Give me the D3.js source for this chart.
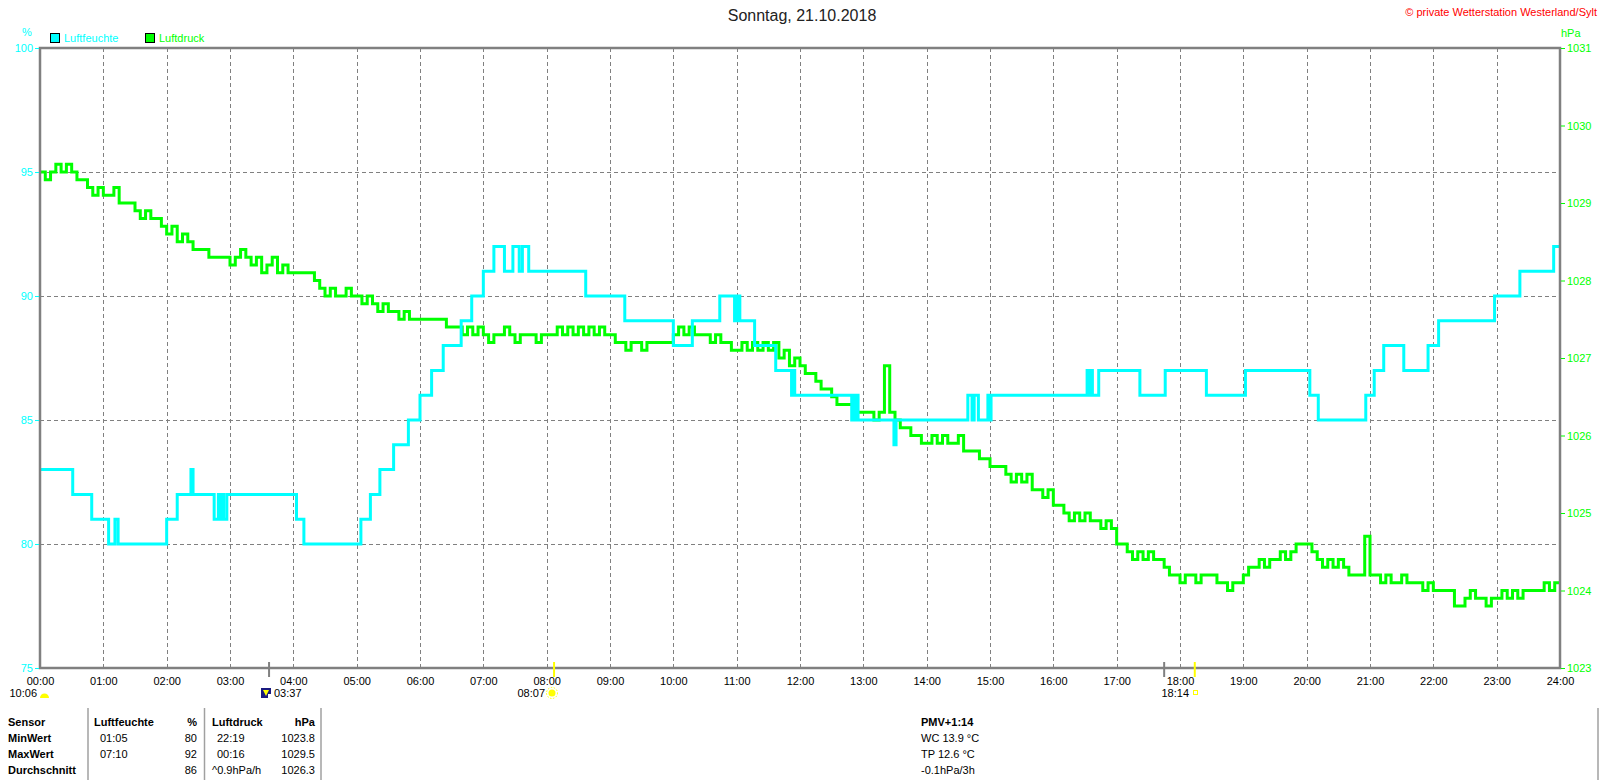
<!DOCTYPE html>
<html>
<head>
<meta charset="utf-8">
<script src="https://cdn.jsdelivr.net/npm/d3@7"></script>
<style>
  body { margin: 0; background: #fff; }
  svg { display: block; font-family: "Liberation Sans", Arial, sans-serif; }
</style>
</head>
<body>
<svg width="1600" height="780"></svg>
<script>
// Luftfeuchte: step changes (time -> %)
var humTimes = ["00:00","00:31","00:49","01:05","01:11","01:14","02:00","02:10","02:23","02:25","02:45","02:49","02:51","02:53","02:54","02:57",
  "04:03","04:10","05:04","05:13","05:22","05:35","05:49","06:00","06:11","06:22","06:39","06:49","07:00","07:10","07:20","07:28","07:34","07:37","07:43",
  "08:37","09:14","10:00","10:18","10:44","10:58","10:59","11:01","11:02","11:03","11:17","11:37","11:52","11:53","11:55",
  "12:49","12:50","12:52","12:54","12:55","13:29","13:31","14:39","14:43","14:45","14:49","14:58","14:59","15:01",
  "16:32","16:34","16:36","16:37","16:43","17:22","17:46","18:25","19:02","20:03","20:11","20:56","21:04","21:13","21:32","21:55","22:05","22:58","23:22","23:54"];
var humValues = [83,82,81,80,81,80,81,82,83,82,81,82,81,82,81,82,
  81,80,81,82,83,84,85,86,87,88,89,90,91,92,91,92,91,92,91,
  90,89,88,89,90,89,90,89,90,89,88,87,86,87,86,
  85,86,85,86,85,84,85,86,85,86,85,86,85,86,
  87,86,87,86,87,86,87,86,87,86,85,86,87,88,87,88,89,90,91,92];

// Luftdruck: every 5 minutes from 00:00 to 24:00 (hPa)
var pressureStepMin = 5;
var pressureValues = [
  1029.4,1029.3,1029.4,1029.5,1029.4,1029.5,1029.4,1029.3,1029.3,1029.2,1029.1,1029.2,
  1029.1,1029.1,1029.2,1029.0,1029.0,1029.0,1028.9,1028.8,1028.9,1028.8,1028.8,1028.7,
  1028.6,1028.7,1028.5,1028.6,1028.5,1028.4,1028.4,1028.4,1028.3,1028.3,1028.3,1028.3,
  1028.2,1028.3,1028.4,1028.3,1028.2,1028.3,1028.1,1028.2,1028.3,1028.1,1028.2,1028.1,
  1028.1,1028.1,1028.1,1028.1,1028.0,1027.9,1027.8,1027.9,1027.8,1027.8,1027.9,1027.8,
  1027.8,1027.7,1027.8,1027.7,1027.6,1027.7,1027.6,1027.6,1027.5,1027.6,1027.5,1027.5,
  1027.5,1027.5,1027.5,1027.5,1027.5,1027.4,1027.4,1027.4,1027.3,1027.4,1027.3,1027.4,
  1027.3,1027.2,1027.3,1027.3,1027.4,1027.3,1027.2,1027.3,1027.3,1027.3,1027.2,1027.3,
  1027.3,1027.3,1027.4,1027.3,1027.4,1027.3,1027.4,1027.3,1027.4,1027.3,1027.4,1027.3,
  1027.3,1027.2,1027.2,1027.1,1027.2,1027.2,1027.1,1027.2,1027.2,1027.2,1027.2,1027.2,
  1027.3,1027.4,1027.3,1027.4,1027.3,1027.3,1027.3,1027.2,1027.3,1027.2,1027.2,1027.1,
  1027.1,1027.2,1027.1,1027.2,1027.1,1027.2,1027.1,1027.2,1027.0,1027.1,1026.9,1027.0,
  1026.9,1026.8,1026.8,1026.7,1026.6,1026.6,1026.5,1026.4,1026.4,1026.4,1026.3,1026.3,
  1026.3,1026.3,1026.2,1026.3,1026.9,1026.3,1026.2,1026.1,1026.1,1026.0,1026.0,1025.9,
  1025.9,1026.0,1025.9,1026.0,1025.9,1025.9,1026.0,1025.8,1025.8,1025.8,1025.7,1025.7,
  1025.6,1025.6,1025.6,1025.5,1025.4,1025.5,1025.4,1025.5,1025.3,1025.3,1025.2,1025.3,
  1025.1,1025.1,1025.0,1024.9,1025.0,1024.9,1025.0,1024.9,1024.9,1024.8,1024.9,1024.8,
  1024.6,1024.6,1024.5,1024.4,1024.5,1024.4,1024.5,1024.4,1024.4,1024.3,1024.2,1024.2,
  1024.1,1024.2,1024.2,1024.1,1024.2,1024.2,1024.2,1024.1,1024.1,1024.0,1024.1,1024.1,
  1024.2,1024.3,1024.3,1024.4,1024.3,1024.4,1024.4,1024.5,1024.4,1024.5,1024.6,1024.6,
  1024.6,1024.5,1024.4,1024.3,1024.4,1024.3,1024.4,1024.3,1024.2,1024.2,1024.2,1024.7,
  1024.2,1024.2,1024.1,1024.2,1024.1,1024.1,1024.2,1024.1,1024.1,1024.1,1024.0,1024.1,
  1024.0,1024.0,1024.0,1024.0,1023.8,1023.8,1023.9,1024.0,1023.9,1023.9,1023.8,1023.9,
  1023.9,1024.0,1023.9,1024.0,1023.9,1024.0,1024.0,1024.0,1024.0,1024.1,1024.0,1024.1,
  1024.1];

var humTicks = [75, 80, 85, 90, 95, 100];
var pressureTicks = [1023, 1024, 1025, 1026, 1027, 1028, 1029, 1030, 1031];

// sun / moon times under the axis
var markerTimes = ["03:37", "08:07", "17:45", "18:14"];
var markerColors = ["#808080", "#ffff00", "#808080", "#ffff00"];

// statistics table
var tableHeader = ["Sensor", "Luftfeuchte", "%", "Luftdruck", "hPa"];
var tableLabels = ["MinWert", "MaxWert", "Durchschnitt"];
var humTimesStat = ["01:05", "07:10", ""];
var humStat = ["80", "92", "86"];
var presTimesStat = ["22:19", "00:16", "^0.9hPa/h"];
var presStat = ["1023.8", "1029.5", "1026.3"];
var pmvLines = ["PMV+1:14", "WC 13.9 °C", "TP 12.6 °C", "-0.1hPa/3h"];

var toMin = function (s) { var p = s.split(":"); return +p[0] * 60 + +p[1]; };

var plotL = 40, plotR = 1560, plotT = 48, plotB = 668;
var cyan = "#00ffff", green = "#00ff00", gridGray = "#808080";
var fontStack = "Liberation Sans, Arial, sans-serif";

var svg = d3.select("svg");

var x = d3.scaleLinear().domain([0, 1440]).range([plotL, plotR]);
var yHum = d3.scaleLinear().domain([75, 100]).range([plotB, plotT]);
var yPres = d3.scaleLinear().domain([1023, 1031]).range([plotB, plotT]);

//grid
var grid = svg.append("g").attr("stroke", gridGray).attr("stroke-width", 1).attr("stroke-dasharray", "4,3");
grid.selectAll(".vg").data(d3.range(60, 1440, 60)).enter().append("line")
    .attr("x1", function (d) { return Math.round(x(d)) + 0.5; })
    .attr("x2", function (d) { return Math.round(x(d)) + 0.5; })
    .attr("y1", plotT).attr("y2", plotB);
grid.selectAll(".hg").data([80, 85, 90, 95]).enter().append("line")
    .attr("x1", plotL).attr("x2", plotR)
    .attr("y1", function (d) { return Math.round(yHum(d)) + 0.5; })
    .attr("y2", function (d) { return Math.round(yHum(d)) + 0.5; });

//data lines
var humData = humTimes.map(function (t, i) { return [toMin(t), humValues[i]]; });
humData.push([1440, humValues[humValues.length - 1]]);
var presData = pressureValues.map(function (v, i) { return [i * pressureStepMin, v]; });

svg.append("path").datum(presData)
    .attr("fill", "none").attr("stroke", green).attr("stroke-width", 3)
    .attr("d", d3.line().curve(d3.curveStepAfter)
        .x(function (d) { return x(d[0]); })
        .y(function (d) { return yPres(d[1]); }));

svg.append("path").datum(humData)
    .attr("fill", "none").attr("stroke", cyan).attr("stroke-width", 3)
    .attr("d", d3.line().curve(d3.curveStepAfter)
        .x(function (d) { return x(d[0]); })
        .y(function (d) { return yHum(d[1]); }));

//frame
svg.append("rect").attr("x", plotL).attr("y", plotT)
    .attr("width", plotR - plotL).attr("height", plotB - plotT)
    .attr("fill", "none").attr("stroke", gridGray).attr("stroke-width", 2.5);

//left axis
var axL = svg.append("g").attr("transform", "translate(" + (plotL - 1) + ",0)")
    .call(d3.axisLeft(yHum).tickValues(humTicks).tickSize(4).tickPadding(2));
axL.select(".domain").remove();
axL.selectAll("line").attr("stroke", cyan);
axL.selectAll("text").attr("fill", cyan).style("font-size", "11px").style("font-family", fontStack);
svg.append("text").attr("x", 27).attr("y", 36).attr("text-anchor", "middle")
    .attr("fill", cyan).style("font-size", "11px").text("%");

//right axis
var axR = svg.append("g").attr("transform", "translate(" + (plotR + 1) + ",0)")
    .call(d3.axisRight(yPres).tickValues(pressureTicks).tickSize(4).tickPadding(2).tickFormat(d3.format("d")));
axR.select(".domain").remove();
axR.selectAll("line").attr("stroke", green);
axR.selectAll("text").attr("fill", green).style("font-size", "11px").style("font-family", fontStack);
svg.append("text").attr("x", 1561).attr("y", 37)
    .attr("fill", green).style("font-size", "11px").text("hPa");

//bottom axis
var axB = svg.append("g").attr("transform", "translate(0," + plotB + ")")
    .call(d3.axisBottom(x).tickValues(d3.range(0, 1441, 60)).tickSize(0).tickPadding(9)
        .tickFormat(function (d) { return d3.format("02")(d / 60) + ":00"; }));
axB.select(".domain").remove();
axB.selectAll("text").attr("fill", "#000").style("font-size", "11px").style("font-family", fontStack);

//sun/moon markers
svg.selectAll(".mk").data(markerTimes).enter().append("line")
    .attr("x1", function (d) { return x(toMin(d)); })
    .attr("x2", function (d) { return x(toMin(d)); })
    .attr("y1", plotB - 6).attr("y2", plotB + 9)
    .attr("stroke", function (d, i) { return markerColors[i]; })
    .attr("stroke-width", 2);

var small = function (sel) { return sel.style("font-size", "11px").attr("fill", "#000"); };
small(svg.append("text").attr("x", 37).attr("y", 697).attr("text-anchor", "end").text("10:06"));
svg.append("path").attr("d", "M40,698 A4.5,4.5 0 0 1 49,698 Z").attr("fill", "#ffff00");
svg.append("rect").attr("x", 261).attr("y", 688).attr("width", 10).attr("height", 10).attr("fill", "#1a1a80");
svg.append("path").attr("d", "M263,690 L269,690 L266,696 Z").attr("fill", "#ffff00");
svg.append("rect").attr("x", 268).attr("y", 694).attr("width", 4).attr("height", 4).attr("fill", "#fff");
small(svg.append("text").attr("x", 274).attr("y", 697).text("03:37"));
small(svg.append("text").attr("x", 545).attr("y", 697).attr("text-anchor", "end").text("08:07"));
svg.append("circle").attr("cx", 552).attr("cy", 693).attr("r", 3.5).attr("fill", "#ffff00");
svg.append("circle").attr("cx", 552).attr("cy", 693).attr("r", 5.5).attr("fill", "none")
    .attr("stroke", "#ffff00").attr("stroke-width", 1).attr("stroke-dasharray", "1.5,1.5");
small(svg.append("text").attr("x", 1189).attr("y", 697).attr("text-anchor", "end").text("18:14"));
svg.append("rect").attr("x", 1193.5).attr("y", 690.5).attr("width", 4).attr("height", 4)
    .attr("fill", "none").attr("stroke", "#ffff00").attr("stroke-width", 1);

//title, copyright
svg.append("text").attr("x", 802).attr("y", 21).attr("text-anchor", "middle")
    .attr("fill", "#222").style("font-size", "16px").text("Sonntag, 21.10.2018");
svg.append("text").attr("x", 1597).attr("y", 16).attr("text-anchor", "end")
    .attr("fill", "#ff0000").style("font-size", "11px").text("© private Wetterstation Westerland/Sylt");

//legend
var legend = [["Luftfeuchte", cyan, 50], ["Luftdruck", green, 145]];
legend.forEach(function (l) {
    svg.append("rect").attr("x", l[2] + 0.5).attr("y", 33.5).attr("width", 9).attr("height", 9)
        .attr("fill", l[1]).attr("stroke", "#000").attr("stroke-width", 1);
    svg.append("text").attr("x", l[2] + 14).attr("y", 42).attr("fill", l[1])
        .style("font-size", "11px").text(l[0]);
});

//statistics table
[88, 204.5, 321, 1598].forEach(function (sx) {
    svg.append("line").attr("x1", sx).attr("x2", sx).attr("y1", 708).attr("y2", 780)
        .attr("stroke", "#a0a0a0").attr("stroke-width", 1.5);
});
var rowY = [726, 742, 758, 774];
var colX = [8, 94, 197, 212, 315];
var anchors = ["start", "start", "end", "start", "end"];
tableHeader.forEach(function (h, i) {
    svg.append("text").attr("x", colX[i]).attr("y", rowY[0]).attr("text-anchor", anchors[i])
        .style("font-size", "11px").style("font-weight", "bold").attr("fill", "#000").text(h);
});
tableLabels.forEach(function (lab, r) {
    var cells = [lab, humTimesStat[r], humStat[r], presTimesStat[r], presStat[r]];
    cells.forEach(function (c, i) {
        var xx = colX[i] + (i === 1 ? 6 : 0) + (i === 3 && r < 2 ? 5 : 0);
        svg.append("text").attr("x", xx).attr("y", rowY[r + 1]).attr("text-anchor", anchors[i])
            .style("font-size", "11px").style("font-weight", i === 0 ? "bold" : "normal")
            .attr("fill", "#000").text(c);
    });
});
pmvLines.forEach(function (p, i) {
    svg.append("text").attr("x", 921).attr("y", rowY[i])
        .style("font-size", "11px").style("font-weight", i === 0 ? "bold" : "normal")
        .attr("fill", "#000").text(p);
});
</script>
</body>
</html>
